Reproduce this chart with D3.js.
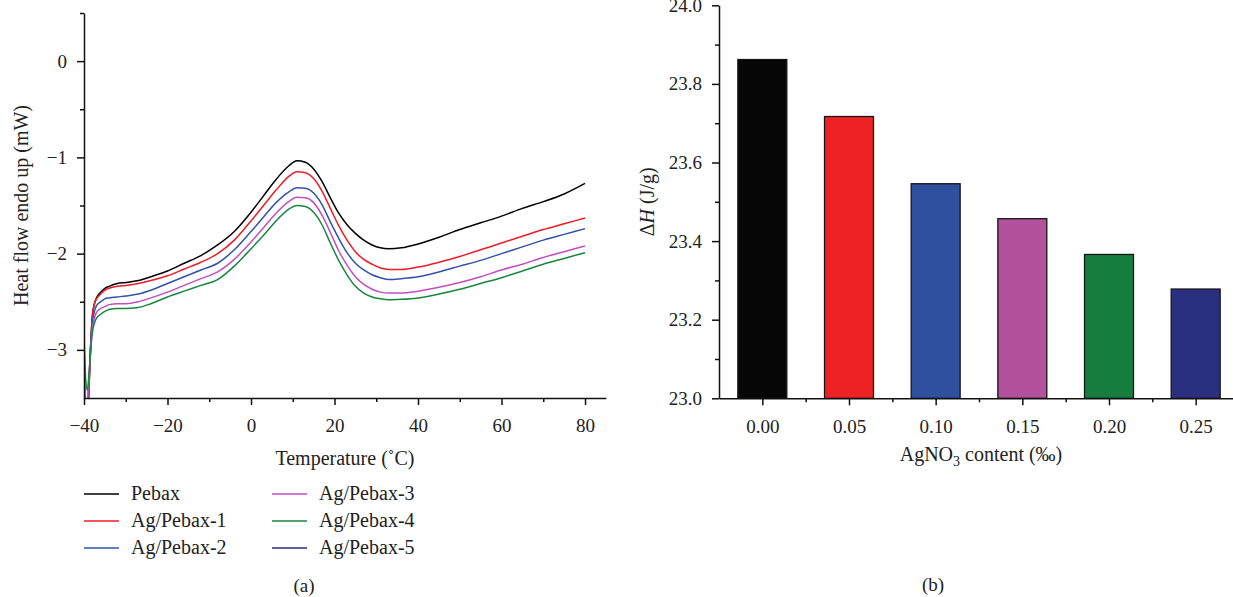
<!DOCTYPE html>
<html>
<head>
<meta charset="utf-8">
<script src="https://cdn.jsdelivr.net/npm/d3@7"></script>
<style>
  html, body { margin: 0; padding: 0; background: #fff; }
  svg { display: block; }
  text { font-family: "Liberation Serif", "DejaVu Serif", serif; fill: #222; }
</style>
</head>
<body>
<svg id="chart" width="1233" height="597"></svg>
<script>
// ---------- Data: panel (a) DSC curves ----------
const temps = [-40, -39.6, -39.2, -38.8, -38.4, -38, -37.5, -37, -36, -35, -34, -32, -30, -27, -24, -20, -16, -12, -8, -4, 0, 3, 6, 9, 11, 13, 15, 17, 19, 21, 23, 25, 27, 29, 31, 33, 36, 40, 45, 50, 55, 60, 65, 70, 75, 80];
const pebax  = [-3.7, -3.9, -3.8, -3.4, -2.95, -2.65, -2.52, -2.46, -2.40, -2.36, -2.34, -2.31, -2.30, -2.28, -2.24, -2.18, -2.10, -2.02, -1.91, -1.77, -1.57, -1.40, -1.23, -1.09, -1.035, -1.05, -1.12, -1.25, -1.42, -1.58, -1.70, -1.79, -1.86, -1.91, -1.94, -1.95, -1.94, -1.90, -1.83, -1.75, -1.68, -1.61, -1.53, -1.46, -1.38, -1.27];
const agPebax1 = [-3.7, -3.9, -3.8, -3.4, -2.95, -2.65, -2.52, -2.47, -2.42, -2.38, -2.36, -2.34, -2.33, -2.31, -2.28, -2.23, -2.16, -2.09, -2.00, -1.86, -1.66, -1.50, -1.34, -1.20, -1.15, -1.16, -1.22, -1.35, -1.53, -1.71, -1.86, -1.98, -2.06, -2.11, -2.15, -2.165, -2.165, -2.14, -2.09, -2.03, -1.96, -1.89, -1.82, -1.75, -1.69, -1.63];
const agPebax2 = [-2.67, -3.7, -3.6, -3.3, -2.95, -2.72, -2.60, -2.54, -2.50, -2.47, -2.46, -2.45, -2.44, -2.42, -2.38, -2.31, -2.24, -2.17, -2.10, -1.96, -1.77, -1.62, -1.47, -1.36, -1.315, -1.32, -1.37, -1.49, -1.67, -1.84, -1.99, -2.10, -2.17, -2.22, -2.25, -2.27, -2.26, -2.24, -2.19, -2.13, -2.07, -2.00, -1.93, -1.86, -1.80, -1.74];
const agPebax3 = [-3.3, -3.6, -3.55, -3.3, -3.0, -2.78, -2.67, -2.61, -2.57, -2.55, -2.53, -2.52, -2.52, -2.50, -2.46, -2.40, -2.33, -2.26, -2.19, -2.06, -1.88, -1.73, -1.58, -1.46, -1.415, -1.42, -1.47, -1.60, -1.78, -1.97, -2.12, -2.24, -2.32, -2.37, -2.40, -2.41, -2.41, -2.39, -2.35, -2.30, -2.24, -2.17, -2.11, -2.04, -1.98, -1.92];
const agPebax4 = [-2.88, -3.3, -3.42, -3.25, -3.0, -2.82, -2.72, -2.67, -2.63, -2.60, -2.58, -2.57, -2.57, -2.56, -2.52, -2.45, -2.39, -2.33, -2.27, -2.13, -1.95, -1.81, -1.66, -1.54, -1.50, -1.51, -1.57, -1.70, -1.89, -2.07, -2.22, -2.34, -2.41, -2.45, -2.47, -2.48, -2.475, -2.46, -2.42, -2.37, -2.31, -2.25, -2.18, -2.11, -2.05, -1.99];
const seriesNames = ["Pebax", "Ag/Pebax-1", "Ag/Pebax-2", "Ag/Pebax-3", "Ag/Pebax-4", "Ag/Pebax-5"];
const seriesColors = ["#000000", "#ee1c25", "#3052a8", "#c24fc2", "#17873f", "#2b2d7c"];
const seriesValues = [pebax, agPebax1, agPebax2, agPebax3, agPebax4, null]; // Ag/Pebax-5 not visible in plot
const xTicksA = [-40, -20, 0, 20, 40, 60, 80];
const yTicksA = [-3, -2, -1, 0];

// ---------- Data: panel (b) enthalpy bars ----------
const contents = [0.00, 0.05, 0.10, 0.15, 0.20, 0.25];
const contentLabels = ["0.00", "0.05", "0.10", "0.15", "0.20", "0.25"];
const deltaH = [23.862, 23.717, 23.546, 23.457, 23.366, 23.278];
const barColors = ["#060606", "#ee2224", "#2f4f9f", "#b2519c", "#157d3d", "#2b2f80"];
const yTicksB = [23.0, 23.2, 23.4, 23.6, 23.8, 24.0];

const svg = d3.select("#chart");
const FS = 19;

// ================= Panel (a) =================
const xA = d3.scaleLinear().domain([-40, 85]).range([84, 605.9]);
const yA = d3.scaleLinear().domain([-3.5, 0.5]).range([398, 13]);

const gA = svg.append("g");
gA.append("clipPath").attr("id", "clipA")
  .append("rect").attr("x", xA(-40)).attr("y", yA(0.5)).attr("width", xA(85) - xA(-40)).attr("height", yA(-3.5) - yA(0.5));

const line = d3.line().x((d, i) => xA(temps[i])).y(d => yA(d)).curve(d3.curveMonotoneX);
const linesG = gA.append("g").attr("clip-path", "url(#clipA)");
seriesValues.forEach((vals, k) => {
  if (!vals) return;
  linesG.append("path").datum(vals)
    .attr("d", line).attr("fill", "none")
    .attr("stroke", seriesColors[k]).attr("stroke-width", 1.5);
});

function styleAxis(g) {
  g.selectAll("path.domain").attr("stroke", "#111").attr("stroke-width", 1.5);
  g.selectAll(".tick line").attr("stroke", "#111").attr("stroke-width", 1.5);
  g.selectAll("text").attr("font-family", "Liberation Serif").attr("font-size", FS).attr("fill", "#222");
}

// minor ticks
gA.append("g").attr("transform", `translate(0,${yA(-3.5)})`)
  .call(d3.axisBottom(xA).tickValues([-30, -10, 10, 30, 50, 70]).tickSize(4).tickFormat("").tickSizeOuter(0))
  .call(g => g.select("path.domain").remove()).call(styleAxis);
gA.append("g").attr("transform", `translate(${xA(-40)},0)`)
  .call(d3.axisLeft(yA).tickValues([-2.5, -1.5, -0.5, 0.5]).tickSize(4).tickFormat("").tickSizeOuter(0))
  .call(g => g.select("path.domain").remove()).call(styleAxis);
// major axes
gA.append("g").attr("transform", `translate(0,${yA(-3.5)})`)
  .call(d3.axisBottom(xA).tickValues(xTicksA).tickSize(7).tickPadding(14).tickSizeOuter(0).tickFormat(d3.format("d")))
  .call(styleAxis);
gA.append("g").attr("transform", `translate(${xA(-40)},0)`)
  .call(d3.axisLeft(yA).tickValues(yTicksA).tickSize(7).tickPadding(10).tickSizeOuter(0).tickFormat(d3.format("d")))
  .call(styleAxis);

gA.append("text").attr("x", (xA(-40) + xA(85)) / 2).attr("y", 465)
  .attr("text-anchor", "middle").attr("font-size", FS + 1).text("Temperature (˚C)");
gA.append("text").attr("transform", `translate(28,${(yA(-3.5) + yA(0.5)) / 2}) rotate(-90)`)
  .attr("text-anchor", "middle").attr("font-size", FS + 1).text("Heat flow endo up (mW)");

// legend
const legCols = [84, 272];
const legRows = [494, 521, 548];
seriesNames.forEach((name, k) => {
  const cx = legCols[Math.floor(k / 3)], cy = legRows[k % 3];
  gA.append("line").attr("x1", cx).attr("x2", cx + 35).attr("y1", cy).attr("y2", cy)
    .attr("stroke", seriesColors[k]).attr("stroke-width", 1.5);
  gA.append("text").attr("x", cx + 47).attr("y", cy + 6).attr("font-size", FS + 1).text(name);
});
gA.append("text").attr("x", 304).attr("y", 592).attr("text-anchor", "middle").attr("font-size", FS).text("(a)");

// ================= Panel (b) =================
const xB = d3.scaleLinear().domain([-0.025, 0.275]).range([719, 1239]);
const yB = d3.scaleLinear().domain([23.0, 24.0]).range([398.3, 5.3]);
const gB = svg.append("g");
const barW = (xB(0.05) - xB(0)) * 0.565;

gB.selectAll("rect.bar").data(deltaH).join("rect").attr("class", "bar")
  .attr("x", (d, i) => xB(contents[i]) - barW / 2)
  .attr("y", d => yB(d))
  .attr("width", barW)
  .attr("height", d => yB(23.0) - yB(d))
  .attr("fill", (d, i) => barColors[i])
  .attr("stroke", "#151515").attr("stroke-width", 1.3);

gB.append("g").attr("transform", `translate(0,${yB(23.0)})`)
  .call(d3.axisBottom(xB).tickValues([0.025, 0.075, 0.125, 0.175, 0.225]).tickSize(4).tickFormat("").tickSizeOuter(0))
  .call(g => g.select("path.domain").remove()).call(styleAxis);
gB.append("g").attr("transform", `translate(${xB(-0.025)},0)`)
  .call(d3.axisLeft(yB).tickValues([23.1, 23.3, 23.5, 23.7, 23.9]).tickSize(4).tickFormat("").tickSizeOuter(0))
  .call(g => g.select("path.domain").remove()).call(styleAxis);
gB.append("g").attr("transform", `translate(0,${yB(23.0)})`)
  .call(d3.axisBottom(xB).tickValues(contents).tickSize(7).tickPadding(14).tickSizeOuter(0).tickFormat((d, i) => contentLabels[i]))
  .call(styleAxis);
gB.append("g").attr("transform", `translate(${xB(-0.025)},0)`)
  .call(d3.axisLeft(yB).tickValues(yTicksB).tickSize(7).tickPadding(10).tickSizeOuter(0).tickFormat(d3.format(".1f")))
  .call(styleAxis);

const tX = gB.append("text").attr("x", (xB(-0.025) + 1233) / 2 + 5).attr("y", 461)
  .attr("text-anchor", "middle").attr("font-size", FS + 1);
tX.append("tspan").text("AgNO");
tX.append("tspan").attr("font-size", FS - 5).attr("dy", 5).text("3");
tX.append("tspan").attr("dy", -5).text(" content (‰)");

const tY = gB.append("text").attr("transform", `translate(654,${(yB(23) + yB(24)) / 2}) rotate(-90)`)
  .attr("text-anchor", "middle").attr("font-size", FS + 1);
tY.append("tspan").text("Δ");
tY.append("tspan").attr("font-style", "italic").text("H");
tY.append("tspan").text(" (J/g)");

gB.append("text").attr("x", 933).attr("y", 591).attr("text-anchor", "middle").attr("font-size", FS).text("(b)");
</script>
</body>
</html>
